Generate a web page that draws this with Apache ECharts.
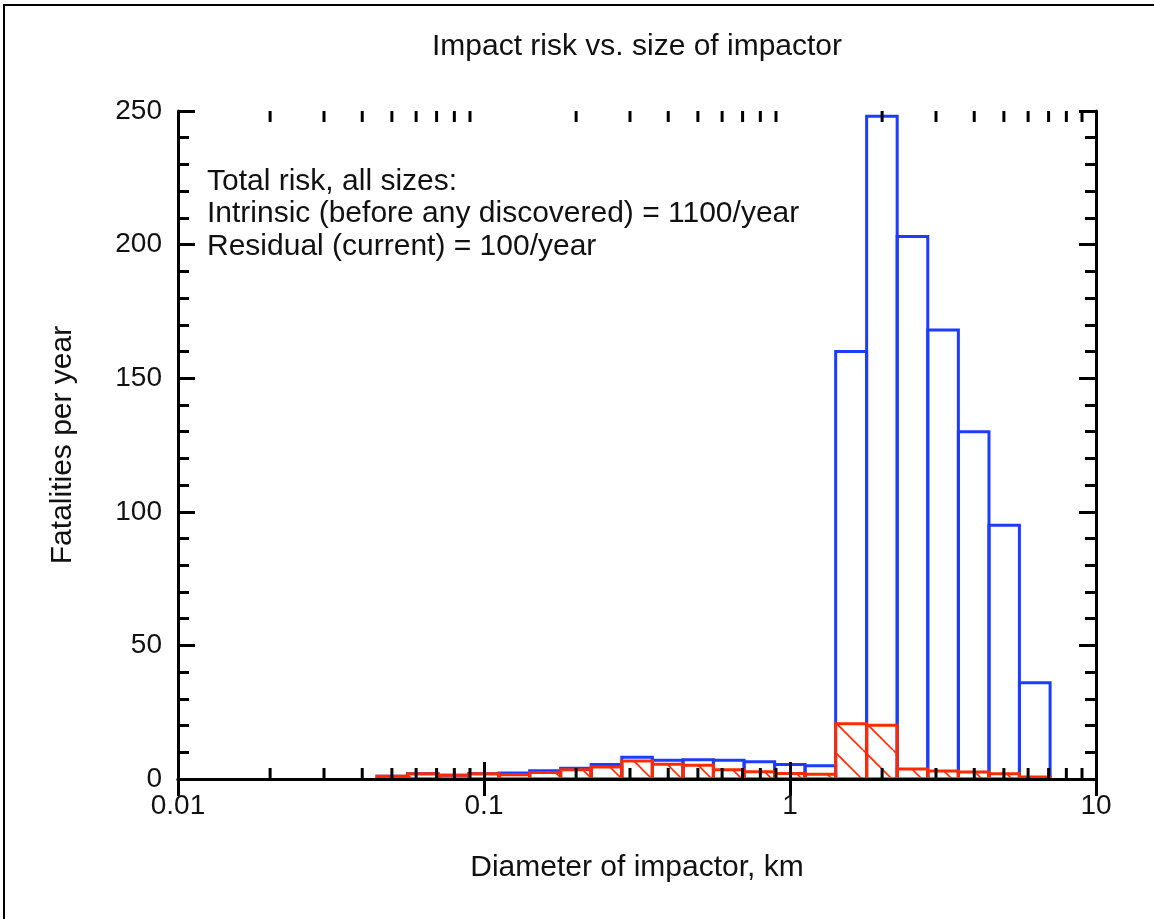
<!DOCTYPE html>
<html>
<head>
<meta charset="utf-8">
<script src="https://cdn.jsdelivr.net/npm/echarts@6/dist/echarts.min.js"></script>
<style>
  html, body { margin: 0; padding: 0; background: #fff; }
  #chart { width: 1154px; height: 919px; }
</style>
</head>
<body>
<div id="chart"></div>
<script>
// bin edges in km (0.1 dex wide)
var binEdges = [0.0447, 0.0562, 0.0708, 0.0891, 0.112, 0.141, 0.178, 0.224, 0.282, 0.355,
                0.447, 0.562, 0.708, 0.891, 1.12, 1.41, 1.78, 2.24, 2.82, 3.55, 4.47, 5.62, 7.08];
// intrinsic risk (before any discovered), fatalities per year
var intrinsic = [1.0, 2.0, 1.4, 2.0, 2.2, 3.1, 4.0, 5.4, 8.1, 7.0, 7.2, 7.0, 6.5, 5.4, 5.0,
                 160, 248, 203, 168, 130, 95, 36];
// residual risk (current)
var residual = [1.0, 2.0, 1.4, 2.0, 1.6, 2.4, 3.5, 4.5, 6.7, 5.5, 5.1, 3.5, 2.7, 2.1, 1.8,
                20.7, 20.1, 3.7, 3.0, 2.6, 2.0, 0.75];
var xTickLabels = ['0.01', '0.1', '1', '10'];
var xMinorTicks = [0.02, 0.03, 0.04, 0.05, 0.06, 0.07, 0.08, 0.09,
                   0.2, 0.3, 0.4, 0.5, 0.6, 0.7, 0.8, 0.9,
                   2, 3, 4, 5, 6, 7, 8, 9];
var noteLines = ['Total risk, all sizes:',
                 'Intrinsic (before any discovered) = 1100/year',
                 'Residual (current) = 100/year'];

var FONT = 'Liberation Sans, Arial, sans-serif';
var BLUE = '#1e3cff';
var RED = '#ff2a00';

// hatch pattern "\" for residual bars
var hatch = document.createElement('canvas');
hatch.width = 30; hatch.height = 30;
var hc = hatch.getContext('2d');
hc.strokeStyle = RED;
hc.lineWidth = 1.6;
for (var k = -1; k <= 1; k++) {
  hc.beginPath();
  hc.moveTo(23 + 30 * k, 0);
  hc.lineTo(53 + 30 * k, 30);
  hc.stroke();
}

function toBins(vals) {
  return vals.map(function (v, i) { return [binEdges[i], binEdges[i + 1], v]; });
}

function barRenderer(stroke, fill) {
  return function (params, api) {
    var p0 = api.coord([api.value(0), 0]);
    var p1 = api.coord([api.value(1), api.value(2)]);
    return {
      type: 'rect',
      shape: { x: p0[0], y: p1[1], width: p1[0] - p0[0], height: p0[1] - p1[1] },
      style: { fill: fill, stroke: stroke, lineWidth: 3 }
    };
  };
}

var myChart = echarts.init(document.getElementById('chart'));

var axisLine = { show: true, lineStyle: { color: '#000', width: 3 } };

var option = {
  backgroundColor: '#fff',
  animation: false,
  grid: { left: 178, right: 58, top: 111, bottom: 140 },
  xAxis: [{
    type: 'log', logBase: 10, min: 0.01, max: 10, z: 10,
    name: 'Diameter of impactor, km', nameLocation: 'middle', nameGap: 74,
    nameTextStyle: { fontSize: 30, fontFamily: FONT, color: '#111' },
    axisLine: axisLine,
    axisTick: { inside: true, length: 17, lineStyle: { width: 3, color: '#000' } },
    axisLabel: { margin: 13, fontSize: 28, fontFamily: FONT, color: '#111',
      formatter: function (v, i) { return xTickLabels[i]; } },
    minorTick: { show: false },
    splitLine: { show: false }
  }, {
    type: 'log', logBase: 10, min: 0.01, max: 10, z: 10, position: 'top',
    axisLine: axisLine,
    axisTick: { inside: true, length: 17, lineStyle: { width: 3, color: '#000' } },
    axisLabel: { show: false },
    splitLine: { show: false }
  }],
  yAxis: [{
    type: 'value', min: 0, max: 250, interval: 50, z: 10,
    name: 'Fatalities per year', nameLocation: 'middle', nameGap: 100,
    nameTextStyle: { fontSize: 30, fontFamily: FONT, color: '#111' },
    axisLine: axisLine,
    axisTick: { inside: true, length: 17, lineStyle: { width: 3, color: '#000' } },
    minorTick: { show: true, splitNumber: 5, length: 11, lineStyle: { width: 3, color: '#000' } },
    axisLabel: { margin: 16, fontSize: 28, fontFamily: FONT, color: '#111' },
    splitLine: { show: false }
  }, {
    type: 'value', min: 0, max: 250, interval: 50, z: 10, position: 'right',
    axisLine: axisLine,
    axisTick: { inside: true, length: 17, lineStyle: { width: 3, color: '#000' } },
    minorTick: { show: true, splitNumber: 5, length: 11, lineStyle: { width: 3, color: '#000' } },
    axisLabel: { show: false },
    splitLine: { show: false }
  }],
  graphic: [
    { type: 'polyline', shape: { points: [[4, 919], [4, 5], [1154, 5]] },
      style: { stroke: '#000', lineWidth: 2, fill: null } },
    { type: 'text', x: 637, y: 47,
      style: { text: 'Impact risk vs. size of impactor', fontSize: 30, fontFamily: FONT,
               fill: '#111', align: 'center', verticalAlign: 'middle' } },
    { type: 'text', x: 207, y: 165, z: 20,
      style: { text: noteLines.join('\n'), fontSize: 30, lineHeight: 32.5, fontFamily: FONT,
               fill: '#111', align: 'left', verticalAlign: 'top' } }
  ],
  series: [{
    name: 'Intrinsic', type: 'custom', coordinateSystem: 'cartesian2d',
    encode: { x: [0, 1], y: 2 },
    renderItem: barRenderer(BLUE, 'rgba(0,0,0,0)'),
    data: toBins(intrinsic)
  }, {
    name: 'Residual', type: 'custom', coordinateSystem: 'cartesian2d',
    encode: { x: [0, 1], y: 2 },
    renderItem: barRenderer(RED, { image: hatch, repeat: 'repeat' }),
    data: toBins(residual)
  }, {
    // minor ticks for the log axis (2..9 within each decade)
    name: 'xminor', type: 'custom', coordinateSystem: 'cartesian2d', z: 10, silent: true,
    encode: { x: 0, y: 1 },
    renderItem: function (params, api) {
      var b = api.coord([api.value(0), 0]);
      var t = api.coord([api.value(0), 250]);
      var ls = { stroke: '#000', lineWidth: 3 };
      return { type: 'group', children: [
        { type: 'line', shape: { x1: b[0], y1: b[1], x2: b[0], y2: b[1] - 11 }, style: ls },
        { type: 'line', shape: { x1: t[0], y1: t[1], x2: t[0], y2: t[1] + 11 }, style: ls }
      ] };
    },
    data: xMinorTicks.map(function (v) { return [v, 0]; })
  }]
};

myChart.setOption(option);
</script>
</body>
</html>
